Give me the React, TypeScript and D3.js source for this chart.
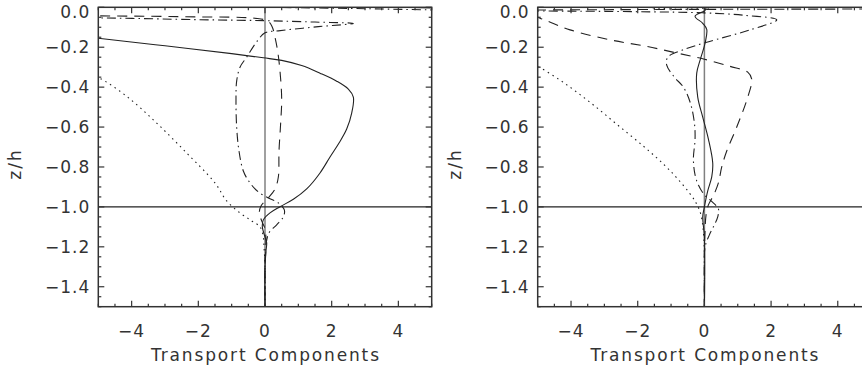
import React, { useEffect, useRef } from 'react';
import * as d3 from 'd3';

type Pt = [number, number]; // [transport, z/h]

const xDomain: [number, number] = [-5, 5];
const zDomain: [number, number] = [-1.5, 0];
const xMajorTicks = [-4, -2, 0, 2, 4];
const zMajorTicks = [0, -0.2, -0.4, -0.6, -0.8, -1.0, -1.2, -1.4];
const xMinorStep = 0.5;
const zMinorStep = 0.05;
const baseDepth = -1.0;

// left panel
const leftSolid: Pt[] = [
  [8, -0.018], [-8, -0.026], [-7, -0.12], [-5, -0.155], [-3, -0.193], [-1, -0.232],
  [-0.05, -0.253], [0.5, -0.266], [1.1, -0.292], [1.65, -0.33], [2.15, -0.37],
  [2.5, -0.41], [2.65, -0.45], [2.6, -0.53], [2.45, -0.61], [2.22, -0.68],
  [1.95, -0.75], [1.65, -0.83], [1.25, -0.91], [0.85, -0.962],
  [0.45, -0.999], [0.15, -1.03], [-0.05, -1.065], [-0.08, -1.1], [-0.02, -1.14],
  [0.05, -1.18], [0.03, -1.22], [0, -1.3], [0, -1.5],
];
const leftDashed: Pt[] = [
  [-8, -0.04], [-5, -0.043], [-2, -0.048], [-0.3, -0.055], [0.1, -0.07], [0.22, -0.1],
  [0.3, -0.15], [0.38, -0.22], [0.45, -0.32], [0.5, -0.46], [0.47, -0.58], [0.42, -0.72],
  [0.4, -0.85], [0.3, -0.91], [0.1, -0.955], [-0.12, -0.995], [-0.17, -1.03],
  [-0.1, -1.07], [0, -1.11], [0.03, -1.18], [0, -1.3], [0, -1.5],
];
const leftDashDot: Pt[] = [
  [8, -0.024], [-8, -0.03], [-8, -0.05], [-5, -0.053], [-2, -0.062], [0, -0.067],
  [1.5, -0.074], [2.65, -0.081], [1.6, -0.097], [0.4, -0.118], [0, -0.128],
  [-0.28, -0.18], [-0.55, -0.25], [-0.75, -0.3], [-0.85, -0.37], [-0.87, -0.45],
  [-0.85, -0.6], [-0.78, -0.72], [-0.65, -0.82], [-0.45, -0.88], [-0.2, -0.925],
  [0.1, -0.955], [0.4, -0.98], [0.58, -1.015], [0.55, -1.05], [0.35, -1.09],
  [0.12, -1.13], [0.02, -1.2], [0, -1.3], [0, -1.5],
];
const leftDotted: Pt[] = [
  [8, -0.004], [-8, -0.01], [-8, -0.3], [-5.3, -0.335], [-4.95, -0.356], [-4.15, -0.446],
  [-3.25, -0.58], [-2.35, -0.73], [-1.5, -0.88], [-1.15, -0.97], [-0.75, -1.03],
  [-0.4, -1.07], [-0.15, -1.1], [-0.05, -1.15], [-0.03, -1.2], [0, -1.3], [0, -1.5],
];

// right panel
const rightSolid: Pt[] = [
  [0.05, 0], [0.02, -0.015], [-0.28, -0.045], [-0.05, -0.08], [0.07, -0.11],
  [0.02, -0.18], [-0.12, -0.26], [-0.23, -0.33], [-0.2, -0.45], [-0.05, -0.55],
  [0.12, -0.66], [0.25, -0.78], [0.22, -0.85], [0.1, -0.92], [0, -1.0],
  [-0.05, -1.05], [0, -1.15], [0, -1.5],
];
const rightDashed: Pt[] = [
  [8, -0.008], [-8, -0.02], [-5.3, -0.035], [-4.8, -0.063], [-4.03, -0.113],
  [-2.83, -0.163], [-1.73, -0.196], [-0.83, -0.229], [0, -0.26], [0.77, -0.296],
  [1.3, -0.325], [1.42, -0.36], [1.3, -0.45], [0.97, -0.6], [0.67, -0.72],
  [0.52, -0.8], [0.42, -0.88], [0.28, -0.94], [0.12, -0.99], [0.05, -1.04],
  [0.02, -1.12], [0, -1.25], [0, -1.5],
];
const rightDashDot: Pt[] = [
  [-8, -0.016], [-2, -0.022], [0, -0.028], [1.2, -0.04], [2.17, -0.063], [1.37, -0.113],
  [0.07, -0.175], [-0.67, -0.215], [-1.1, -0.25], [-1.13, -0.29], [-0.9, -0.35],
  [-0.63, -0.4], [-0.42, -0.48], [-0.3, -0.58], [-0.28, -0.66], [-0.33, -0.76],
  [-0.28, -0.84], [-0.18, -0.89], [0, -0.94], [0.2, -0.97], [0.42, -1.01],
  [0.4, -1.05], [0.3, -1.09], [0.15, -1.14], [0.02, -1.2], [0, -1.3], [0, -1.5],
];
const rightDotted: Pt[] = [
  [0.3, 0], [-0.5, -0.01], [-8, -0.013], [-8, -0.26], [-5.1, -0.29], [-4.9, -0.305],
  [-4.2, -0.38], [-3.4, -0.48], [-2.6, -0.59], [-1.8, -0.7], [-1.2, -0.79],
  [-0.8, -0.86], [-0.45, -0.93], [-0.25, -0.98], [-0.12, -1.03], [-0.06, -1.08],
  [-0.02, -1.15], [0, -1.25], [0, -1.5],
];

const dashes: Record<string, string | null> = {
  solid: null,
  dashed: '10,7',
  dashdot: '9,4,1.5,4',
  dotted: '1.5,4',
};

const panels = [
  { left: 98.3, series: [
    { style: 'dotted', pts: leftDotted },
    { style: 'dashdot', pts: leftDashDot },
    { style: 'dashed', pts: leftDashed },
    { style: 'solid', pts: leftSolid },
  ] },
  { left: 537.7, series: [
    { style: 'dotted', pts: rightDotted },
    { style: 'dashdot', pts: rightDashDot },
    { style: 'dashed', pts: rightDashed },
    { style: 'solid', pts: rightSolid },
  ] },
];

const plotW = 333.4;
const plotTop = 7.3;
const plotBottom = 306.7;
const font = '"DejaVu Sans", sans-serif';
const ink = '#222';
const fmt = (v: number, p: number) => d3.format(`.${p}f`)(v).replace('-', '\u2212');

export default function App() {
  const svgRef = useRef<SVGSVGElement>(null);

  useEffect(() => {
    const svg = d3.select(svgRef.current);
    svg.selectAll('*').remove();

    panels.forEach((panel, i) => {
      const x = d3.scaleLinear().domain(xDomain).range([panel.left, panel.left + plotW]);
      const y = d3.scaleLinear().domain(zDomain).range([plotBottom, plotTop]);
      const g = svg.append('g');

      const clipId = `clip-${i}`;
      g.append('clipPath').attr('id', clipId)
        .append('rect')
        .attr('x', x(xDomain[0])).attr('y', y(zDomain[1]))
        .attr('width', plotW).attr('height', plotBottom - plotTop);

      const plot = g.append('g').attr('clip-path', `url(#${clipId})`);

      // zero line
      plot.append('line')
        .attr('x1', x(0)).attr('x2', x(0))
        .attr('y1', y(zDomain[0])).attr('y2', y(zDomain[1]))
        .attr('stroke', '#808080').attr('stroke-width', 1.5);

      // base of layer
      plot.append('line')
        .attr('x1', x(xDomain[0])).attr('x2', x(xDomain[1]))
        .attr('y1', y(baseDepth)).attr('y2', y(baseDepth))
        .attr('stroke', ink).attr('stroke-width', 1.4);

      const line = d3.line<Pt>()
        .x(d => x(d[0]))
        .y(d => y(d[1]))
        .curve(d3.curveCatmullRom.alpha(0.5));

      panel.series.forEach(s => {
        plot.append('path')
          .attr('d', line(s.pts))
          .attr('fill', 'none')
          .attr('stroke', ink)
          .attr('stroke-width', 1.1)
          .attr('stroke-dasharray', dashes[s.style]);
      });

      // frame
      g.append('rect')
        .attr('x', x(xDomain[0])).attr('y', y(zDomain[1]))
        .attr('width', plotW).attr('height', plotBottom - plotTop)
        .attr('fill', 'none').attr('stroke', '#333').attr('stroke-width', 1.5);

      // x ticks, bottom and top
      const xt = d3.range(xDomain[0], xDomain[1] + 1e-6, xMinorStep);
      xt.forEach(v => {
        const major = xMajorTicks.some(m => Math.abs(m - v) < 1e-6);
        const len = major ? 6 : 3;
        g.append('line').attr('x1', x(v)).attr('x2', x(v))
          .attr('y1', plotBottom).attr('y2', plotBottom - len)
          .attr('stroke', '#333').attr('stroke-width', 1.2);
        g.append('line').attr('x1', x(v)).attr('x2', x(v))
          .attr('y1', plotTop).attr('y2', plotTop + len)
          .attr('stroke', '#333').attr('stroke-width', 1.2);
      });

      // z ticks, left and right
      const zt = d3.range(zDomain[0], zDomain[1] + 1e-6, zMinorStep);
      zt.forEach(v => {
        const major = zMajorTicks.some(m => Math.abs(m - v) < 1e-6);
        const len = major ? 6 : 3;
        g.append('line').attr('x1', x(xDomain[0])).attr('x2', x(xDomain[0]) + len)
          .attr('y1', y(v)).attr('y2', y(v))
          .attr('stroke', '#333').attr('stroke-width', 1.2);
        g.append('line').attr('x1', x(xDomain[1])).attr('x2', x(xDomain[1]) - len)
          .attr('y1', y(v)).attr('y2', y(v))
          .attr('stroke', '#333').attr('stroke-width', 1.2);
      });

      // labels
      g.selectAll('.xl').data(xMajorTicks).enter().append('text')
        .attr('x', d => x(d)).attr('y', 331)
        .attr('text-anchor', 'middle').attr('dominant-baseline', 'central')
        .attr('font-family', font).attr('font-size', 17).attr('fill', '#333')
        .attr('letter-spacing', 1)
        .text(d => fmt(d, 0));

      g.selectAll('.zl').data(zMajorTicks).enter().append('text')
        .attr('x', panel.left - 8).attr('y', d => Math.max(y(d), plotTop + 5))
        .attr('text-anchor', 'end').attr('dominant-baseline', 'central')
        .attr('font-family', font).attr('font-size', 17).attr('fill', '#333')
        .attr('letter-spacing', 1)
        .text(d => fmt(d, 1));

      g.append('text')
        .attr('x', x(0)).attr('y', 355)
        .attr('text-anchor', 'middle').attr('dominant-baseline', 'central')
        .attr('font-family', font).attr('font-size', 17).attr('fill', '#333')
        .attr('textLength', 228).attr('lengthAdjust', 'spacing')
        .text('Transport Components');

      g.append('text')
        .attr('transform', `translate(${panel.left - 83},164) rotate(-90)`)
        .attr('text-anchor', 'middle').attr('dominant-baseline', 'central')
        .attr('font-family', font).attr('font-size', 17).attr('fill', '#333')
        .attr('letter-spacing', 2)
        .text('z/h');
    });
  }, []);

  return (
    <svg ref={svgRef} width={862} height={371}
      style={{ position: 'absolute', left: 0, top: 0, background: '#fff' }} />
  );
}
